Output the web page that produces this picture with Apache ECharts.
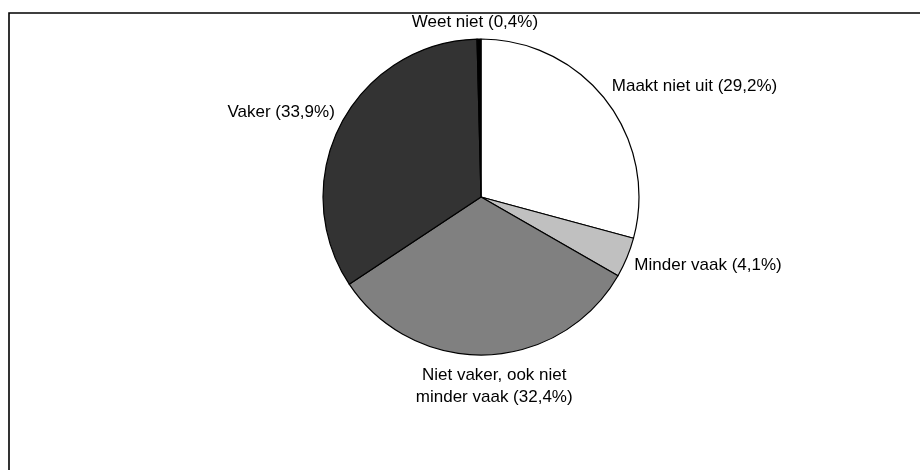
<!DOCTYPE html>
<html>
<head>
<meta charset="utf-8">
<script src="https://cdn.jsdelivr.net/npm/echarts@6/dist/echarts.min.js"></script>
<style>
  html, body { margin: 0; padding: 0; background: #fff; }
  #chart { width: 920px; height: 470px; }
</style>
</head>
<body>
<div id="chart"></div>
<script>
// Answer categories, clockwise from twelve o'clock
const categories = [
  'Maakt niet uit',
  'Minder vaak',
  'Niet vaker, ook niet\nminder vaak',
  'Vaker',
  'Weet niet'
];
// Share of respondents per answer (%)
const shares = [29.2, 4.1, 32.4, 33.9, 0.4];
// Grey fill per slice
const fills = ['#ffffff', '#c0c0c0', '#808080', '#333333', '#000000'];

// Small label nudges relative to the library's outside placement
const labelNudge = {
  0: { dx: -6, dy: -10 },
  1: { dx: -5, dy: 5 },
  2: { dx: 3, dy: 23, align: 'center' },
  3: { dx: 6, dy: -8 },
  4: { dx: 1, dy: -9, align: 'center' }
};

const fmt = v => v.toFixed(1).replace('.', ',');

const chart = echarts.init(document.getElementById('chart'), null, { renderer: 'canvas' });

chart.setOption({
  backgroundColor: '#ffffff',
  animation: false,
  graphic: [{
    type: 'polyline',
    shape: { points: [[9, 470], [9, 13], [920, 13]] },
    style: { stroke: '#000', lineWidth: 1.6, fill: null },
    silent: true
  }],
  series: [{
    type: 'pie',
    center: [481, 197],
    radius: [0, 158],
    startAngle: 90,
    clockwise: true,
    avoidLabelOverlap: false,
    label: {
      show: true,
      position: 'outside',
      color: '#000',
      fontFamily: 'Liberation Sans, Arial, sans-serif',
      fontSize: 17,
      lineHeight: 22,
      formatter: p => p.name + ' (' + fmt(p.value) + '%)'
    },
    labelLine: { show: false, length: 8, length2: 0 },
    labelLayout: p => labelNudge[p.dataIndex] || {},
    itemStyle: { borderColor: '#000', borderWidth: 1.2 },
    emphasis: { disabled: true },
    data: categories.map((name, i) => ({
      name,
      value: shares[i],
      itemStyle: { color: fills[i] }
    }))
  }]
});
</script>
</body>
</html>
